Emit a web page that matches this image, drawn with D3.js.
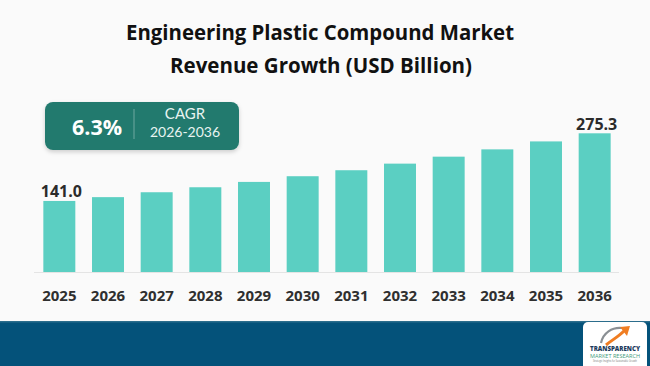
<!DOCTYPE html>
<html><head><meta charset="utf-8">
<script src="https://cdn.jsdelivr.net/npm/d3@7"></script>
<style>html,body{margin:0;padding:0;background:#fafafa;}svg{display:block;}</style>
</head><body>
<script>
const years = ["2025","2026","2027","2028","2029","2030","2031","2032","2033","2034","2035","2036"];
const revenue = [141.0,148.6,158.3,168.2,178.8,190.1,202.0,215.1,228.9,243.4,259.2,275.3];
const labelledYears = ["2025","2036"];
const titleLines = ["Engineering Plastic Compound Market","Revenue Growth (USD Billion)"];
const cagrValue = "6.3%";
const cagrLabel = "CAGR";
const cagrPeriod = "2026-2036";

const W = 650, H = 366;
const svg = d3.select("body").append("svg").attr("width", W).attr("height", H);

const defs = svg.append("defs");
const f = defs.append("filter").attr("id","sh").attr("x","-10%").attr("y","-20%").attr("width","120%").attr("height","150%");
f.append("feDropShadow").attr("dx",0).attr("dy",2).attr("stdDeviation",2).attr("flood-color","#000").attr("flood-opacity",0.18);

svg.append("rect").attr("width",W).attr("height",H).attr("fill","#fafafa");

// Title
const tl = [{t:titleLines[0], y:39.5, w:388, x:320}, {t:titleLines[1], y:72.5, w:302, x:321}];
svg.selectAll("text.title").data(tl).join("text").attr("class","title")
  .attr("x", d=>d.x).attr("y", d=>d.y).attr("text-anchor","middle")
  .attr("font-family","'Open Sans', sans-serif").attr("font-weight",700).attr("font-size",20.5)
  .attr("fill","#111").attr("textLength", d=>d.w).attr("lengthAdjust","spacingAndGlyphs")
  .text(d=>d.t);

// Scales
const x = d3.scaleBand().domain(years).range([35, 619]).paddingInner(0.343).paddingOuter(0.1715);
const y = d3.scaleLinear().domain([0, 275.3]).range([272, 133.3]);

// Axis baseline
svg.append("line").attr("x1",34).attr("x2",619).attr("y1",272.5).attr("y2",272.5)
  .attr("stroke","#e4e4e4").attr("stroke-width",1.2);

// Bars
svg.selectAll("rect.bar").data(years).join("rect").attr("class","bar")
  .attr("x", d=>x(d)).attr("width", x.bandwidth())
  .attr("y", (d,i)=>y(revenue[i])).attr("height", (d,i)=>y(0)-y(revenue[i]))
  .attr("fill","#5bcfc2");

// Value labels
svg.selectAll("text.val").data(years.filter(d=>labelledYears.includes(d))).join("text").attr("class","val")
  .attr("x", d=>x(d)+x.bandwidth()/2 + 2).attr("y", d=>y(revenue[years.indexOf(d)]) - 3.5)
  .attr("text-anchor","middle").attr("font-family","'Open Sans', sans-serif").attr("font-weight",700)
  .attr("font-size",16).attr("fill","#2b2b2b").text(d=>revenue[years.indexOf(d)].toFixed(1));

// X axis labels
const xAxis = d3.axisBottom(x).tickSize(0).tickPadding(0);
const gx = svg.append("g").attr("transform","translate(0,290)").call(xAxis);
gx.select(".domain").remove();
gx.selectAll("text").attr("font-family","'Open Sans', sans-serif").attr("font-weight",700)
  .attr("font-size",15).attr("fill","#2f2f2f").attr("dy","0.71em");

// CAGR box
const box = svg.append("g");
box.append("rect").attr("x",45).attr("y",102).attr("width",194).attr("height",48).attr("rx",8)
  .attr("fill","#237a6e").attr("filter","url(#sh)");
box.append("text").attr("x",97).attr("y",134.5).attr("text-anchor","middle")
  .attr("font-family","'Open Sans', sans-serif").attr("font-weight",700).attr("font-size",21.5)
  .attr("fill","#fff").text(cagrValue);
box.append("line").attr("x1",134).attr("x2",134).attr("y1",109).attr("y2",139)
  .attr("stroke","#ffffff").attr("stroke-opacity",0.35).attr("stroke-width",1);
box.append("text").attr("x",185).attr("y",119).attr("text-anchor","middle")
  .attr("font-family","Lato, sans-serif").attr("font-weight",400).attr("font-size",15)
  .attr("fill","#e8f4f1").text(cagrLabel);
box.append("text").attr("x",185).attr("y",137.3).attr("text-anchor","middle")
  .attr("font-family","Lato, sans-serif").attr("font-weight",400).attr("font-size",14)
  .attr("fill","#e8f4f1").text(cagrPeriod);

// Footer band
svg.append("rect").attr("x",0).attr("y",321).attr("width",W).attr("height",45).attr("fill","#04527a");
svg.append("rect").attr("x",0).attr("y",321).attr("width",W).attr("height",1.5).attr("fill","#2b6d8c");

// Logo
const lg = svg.append("g");
lg.append("rect").attr("x",583).attr("y",322).attr("width",64).attr("height",50).attr("rx",5).attr("fill","#ffffff");
lg.append("path").attr("d","M601,343 C603,333 612,327 622,328").attr("fill","none").attr("stroke","#8a8f94").attr("stroke-width",2.2);
lg.append("path").attr("d","M606,345 C612,340 618,337 624,331").attr("fill","none").attr("stroke","#f07d22").attr("stroke-width",3);
lg.append("path").attr("d","M620,327 L630,326 L627,336 Z").attr("fill","#f07d22");
lg.append("text").attr("x",615).attr("y",351).attr("text-anchor","middle").attr("font-family","'Open Sans', sans-serif")
  .attr("font-weight",800).attr("font-size",6.2).attr("fill","#1b3a5c").attr("textLength",50).attr("lengthAdjust","spacingAndGlyphs").text("TRANSPARENCY");
lg.append("text").attr("x",615).attr("y",357.5).attr("text-anchor","middle").attr("font-family","'Open Sans', sans-serif")
  .attr("font-weight",400).attr("font-size",5.8).attr("fill","#3f9a7c").attr("textLength",50).attr("lengthAdjust","spacingAndGlyphs").text("MARKET RESEARCH");
lg.append("text").attr("x",615).attr("y",361.5).attr("text-anchor","middle").attr("font-family","'Open Sans', sans-serif")
  .attr("font-size",2.6).attr("fill","#777").attr("textLength",44).attr("lengthAdjust","spacingAndGlyphs").text("Strategic Insights for Sustainable Growth");
</script>
</body></html>
